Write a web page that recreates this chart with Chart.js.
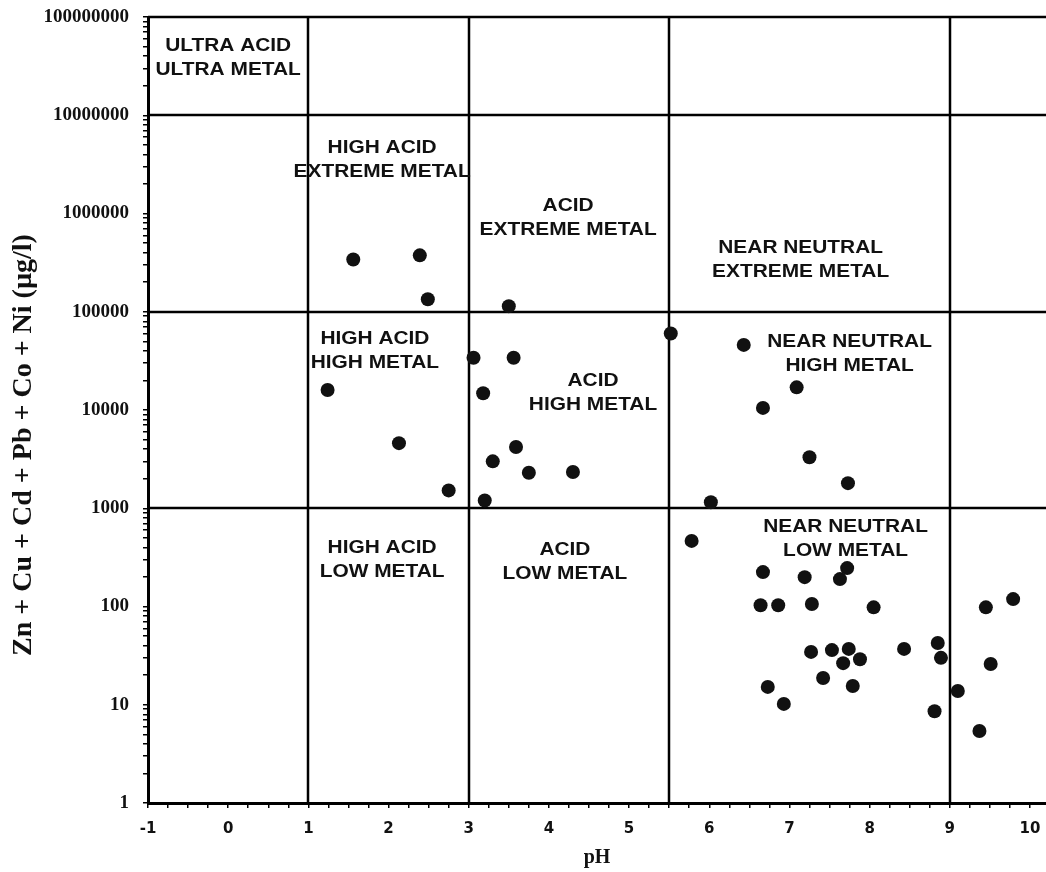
<!DOCTYPE html>
<html>
<head>
<meta charset="utf-8">
<script src="https://cdn.jsdelivr.net/npm/chart.js@4"></script>
<style>
  html, body { margin: 0; padding: 0; background: #fff; }
  #wrap { width: 1046px; height: 872px; }
</style>
</head>
<body>
<div id="wrap"><canvas id="phChart" width="1046" height="872"></canvas></div>
<script>
// sample values
const phValues = [1.56, 2.39, 2.49, 3.50, 5.52, 6.43, 3.06, 3.56, 7.09, 6.67,
  7.25, 7.73, 6.02, 1.24, 3.18, 2.13, 3.59, 3.30, 3.75, 4.30,
  2.75, 3.20, 5.78, 6.67, 7.19, 7.72, 7.63, 6.64, 6.86, 7.28,
  8.05, 9.45, 9.79, 7.27, 7.53, 7.74, 7.88, 7.67, 8.43, 8.85,
  8.89, 9.51, 7.42, 6.73, 7.79, 9.10, 6.93, 8.81, 9.37];
const metalSums = [340000, 375000, 134000, 114000, 60000, 46000, 34000, 34000, 17000, 10500,
  3300, 1800, 1150, 16000, 14800, 4600, 4200, 3000, 2300, 2340,
  1520, 1200, 465, 224, 199, 246, 190, 103, 103, 106,
  98, 98, 119, 34.5, 36, 37, 29, 26.5, 37, 42.5,
  30, 26, 18.7, 15.2, 15.5, 13.8, 10.2, 8.6, 5.4];

// classification boundaries
const phBounds = [1, 3, 5.5, 9];
const metalBounds = [1000, 100000, 10000000];

// x ticks every 0.25, labels on whole numbers
const phTicks = [];
for (let v = -1; v <= 10; v += 0.25) phTicks.push(v);
const decadeExps = [0, 1, 2, 3, 4, 5, 6, 7, 8];

const yTitle = 'Zn + Cu + Cd + Pb + Co + Ni (µg/l)';

// zone names and where they sit (pH, metal)
const zoneNames = [
  ['ULTRA ACID', 'ULTRA METAL'],
  ['HIGH ACID', 'EXTREME METAL'],
  ['ACID', 'EXTREME METAL'],
  ['NEAR NEUTRAL', 'EXTREME METAL'],
  ['HIGH ACID', 'HIGH METAL'],
  ['ACID', 'HIGH METAL'],
  ['NEAR NEUTRAL', 'HIGH METAL'],
  ['HIGH ACID', 'LOW METAL'],
  ['ACID', 'LOW METAL'],
  ['NEAR NEUTRAL', 'LOW METAL']
];
const zoneAtPh = [0, 1.92, 4.24, 7.14, 1.83, 4.55, 7.75, 1.92, 4.2, 7.7];
const zoneAtMetal = [3.8e7, 3.5e6, 9e5, 3.4e5, 4e4, 1.5e4, 3.7e4, 295, 282, 490];

const zonePlugin = {
  id: 'zones',
  beforeDatasetsDraw(chart) {
    const { ctx, chartArea: a, scales: { x, y } } = chart;
    ctx.save();
    ctx.strokeStyle = '#000';
    ctx.lineWidth = 2.5;
    ctx.beginPath();
    phBounds.forEach(v => {
      const px = Math.round(x.getPixelForValue(v));
      ctx.moveTo(px, a.top);
      ctx.lineTo(px, a.bottom);
    });
    metalBounds.forEach(v => {
      const py = Math.round(y.getPixelForValue(v));
      ctx.moveTo(a.left, py);
      ctx.lineTo(a.right, py);
    });
    ctx.moveTo(a.left, a.top);
    ctx.lineTo(a.right, a.top);
    ctx.stroke();

    ctx.fillStyle = '#111';
    ctx.font = 'bold 18px "Liberation Sans", Arial, sans-serif';
    ctx.textAlign = 'center';
    ctx.textBaseline = 'middle';
    zoneNames.forEach((lines, i) => {
      const cx = x.getPixelForValue(zoneAtPh[i]);
      const cy = y.getPixelForValue(zoneAtMetal[i]);
      ctx.save();
      ctx.translate(cx, cy);
      ctx.scale(1.16, 1);
      lines.forEach((t, j) => ctx.fillText(t, 0, (j - (lines.length - 1) / 2) * 24));
      ctx.restore();
    });

    // y axis title, sits a bit below the middle like the original
    ctx.save();
    ctx.translate(24, 445);
    ctx.rotate(-Math.PI / 2);
    ctx.font = 'bold 28px "Liberation Serif", "Times New Roman", serif';
    ctx.fillText(yTitle, 0, 0);
    ctx.restore();
    ctx.restore();
  }
};

new Chart(document.getElementById('phChart'), {
  type: 'scatter',
  data: {
    datasets: [{
      data: phValues.map((p, i) => ({ x: p, y: metalSums[i] })),
      backgroundColor: '#111',
      borderWidth: 0,
      pointRadius: 7,
      pointHoverRadius: 7
    }]
  },
  options: {
    responsive: false,
    animation: false,
    layout: { autoPadding: false, padding: { top: 17, right: 0, left: 0, bottom: 0 } },
    plugins: { legend: { display: false }, tooltip: { enabled: false } },
    scales: {
      x: {
        type: 'linear',
        min: -1,
        max: 10.2,
        afterBuildTicks: s => { s.ticks = phTicks.map(v => ({ value: v })); },
        afterFit: s => { s.height = 69; s.paddingLeft = 0; s.paddingRight = 0; },
        ticks: {
          autoSkip: false,
          maxRotation: 0,
          padding: 12,
          color: '#111',
          font: { family: '"DejaVu Sans", sans-serif', size: 15, weight: 'bold' },
          callback: v => Number.isInteger(v) ? String(v) : ''
        },
        grid: { drawOnChartArea: false, drawTicks: true, tickLength: 5, color: '#000', lineWidth: 1.5 },
        border: { color: '#000', width: 3 },
        title: {
          display: true,
          text: 'pH',
          color: '#111',
          padding: { top: 0, bottom: 2 },
          font: { family: '"Liberation Serif", "Times New Roman", serif', size: 20, weight: 'bold' }
        }
      },
      y: {
        type: 'logarithmic',
        min: 1,
        max: 100000000,
        afterBuildTicks: s => {
          const t = [];
          decadeExps.forEach(e => {
            for (let k = 1; k <= 9; k++) {
              if (e === 8 && k > 1) break;
              t.push({ value: k * Math.pow(10, e) });
            }
          });
          s.ticks = t;
        },
        afterFit: s => { s.width = 148; s.paddingTop = 0; s.paddingBottom = 0; },
        ticks: {
          autoSkip: false,
          padding: 14,
          color: '#111',
          font: { family: '"Liberation Serif", "Times New Roman", serif', size: 19, weight: 'bold' },
          callback: v => Number.isInteger(Math.log10(v)) ? String(v) : ''
        },
        grid: { drawOnChartArea: false, drawTicks: true, tickLength: 5, color: '#000', lineWidth: 1.5 },
        border: { color: '#000', width: 3 },
        title: { display: false }
      }
    }
  },
  plugins: [zonePlugin]
});
</script>
</body>
</html>
